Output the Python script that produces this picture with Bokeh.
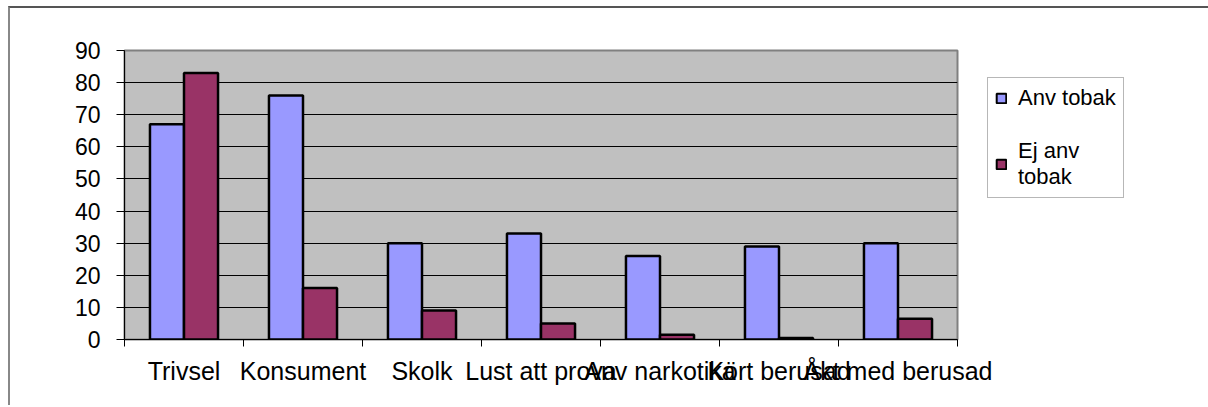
import numpy as np
from bokeh.plotting import figure
from bokeh.layouts import row
from bokeh.models import (ColumnDataSource, FixedTicker, Legend, LegendItem, Range1d)
from bokeh.embed import file_html
from bokeh.resources import INLINE

categories = ["Trivsel", "Konsument", "Skolk", "Lust att prova", "Anv narkotika",
              "Kört berusad", "Åkt med berusad"]
anv_tobak = [67, 76, 30, 33, 26, 29, 30]
ej_anv_tobak = [83, 16, 9, 5, 1.5, 0.5, 6.5]
series_names = ["Anv tobak", "Ej anv\ntobak"]
series_colors = ["#9999FF", "#993366"]
y_ticks = [0, 10, 20, 30, 40, 50, 60, 70, 80, 90]
grid_ticks = [10, 20, 30, 40, 50, 60, 70, 80]

n = len(categories)
centers = np.arange(n) + 0.5
bw = 0.286

src = ColumnDataSource(dict(
    xa=centers - bw / 2, xb=centers + bw / 2,
    a=anv_tobak, b=ej_anv_tobak,
))

H = 397
TOP, BOTTOM = 42, 66
p = figure(width=1007, height=H, output_backend="svg", toolbar_location=None,
           x_range=Range1d(0, n), y_range=Range1d(0, 90),
           min_border_left=114, min_border_top=TOP, min_border_bottom=BOTTOM,
           min_border_right=60)

p.background_fill_color = "#C0C0C0"
p.border_fill_color = "white"
p.outline_line_color = "#808080"
p.outline_line_width = 2

ra = p.vbar(x="xa", top="a", width=bw, source=src, fill_color=series_colors[0],
            line_color="black", line_width=2.5)
rb = p.vbar(x="xb", top="b", width=bw, source=src, fill_color=series_colors[1],
            line_color="black", line_width=2.5)

# y axis
yax = p.yaxis[0]
yax.ticker = FixedTicker(ticks=y_ticks)
yax.major_tick_out = 8
yax.major_tick_in = 0
yax.minor_tick_out = 0
yax.axis_line_color = "black"
yax.major_tick_line_color = "black"
yax.major_label_text_font = "Liberation Sans"
yax.major_label_text_font_size = "23px"
yax.major_label_text_color = "black"
yax.major_label_standoff = 16

# x axis: labels at category centres, ticks at boundaries
xax = p.xaxis[0]
xax.ticker = FixedTicker(ticks=list(centers), minor_ticks=list(range(n + 1)))
xax.major_label_overrides = {float(c): lab for c, lab in zip(centers, categories)}
xax.major_tick_out = 0
xax.major_tick_in = 0
xax.minor_tick_out = 7
xax.minor_tick_in = 0
xax.minor_tick_line_color = "black"
xax.axis_line_color = "black"
xax.major_label_text_font = "Liberation Sans"
xax.major_label_text_font_size = "25px"
xax.major_label_text_color = "black"
xax.major_label_standoff = 10

p.xgrid.visible = False
p.ygrid.ticker = FixedTicker(ticks=grid_ticks)
p.ygrid.grid_line_color = "black"
p.ygrid.grid_line_width = 1

# legend panel (transparent overlay to the right of the plot area)
q = figure(width=221, height=H, output_backend="svg", toolbar_location=None,
           x_range=Range1d(0, 1), y_range=Range1d(0, 1),
           min_border_left=0, min_border_right=0, min_border_top=TOP,
           min_border_bottom=BOTTOM)
q.axis.visible = False
q.grid.visible = False
q.outline_line_color = None
q.background_fill_alpha = 0
q.border_fill_alpha = 0
q.styles = {"margin-left": "-30px"}
key_src = ColumnDataSource(dict(x=[0.5], top=[0.5]))
la = q.vbar(x="x", top="top", width=0.1, source=key_src, fill_color=series_colors[0],
            line_color="black", line_width=2, visible=False)
lb = q.vbar(x="x", top="top", width=0.1, source=key_src, fill_color=series_colors[1],
            line_color="black", line_width=2, visible=False)

legend = Legend(items=[LegendItem(label=series_names[0], renderers=[la]),
                       LegendItem(label=series_names[1], renderers=[lb])],
                location=(0, 141))
legend.inactive_fill_alpha = 0
legend.border_line_color = "#707070"
legend.border_line_width = 1
legend.background_fill_color = "white"
legend.label_text_font = "Liberation Sans"
legend.label_text_font_size = "22px"
legend.label_text_color = "black"
legend.glyph_width = 12
legend.glyph_height = 12
legend.label_standoff = 11
legend.padding = 7
legend.spacing = 27
legend.margin = 0
q.add_layout(legend, "center")

layout = row(p, q)
layout.styles = {"border-top": "2px solid #555555", "border-left": "2px solid #888888",
                 "margin-left": "8px", "margin-top": "6px"}

open("out.html", "w").write(file_html(layout, INLINE))
